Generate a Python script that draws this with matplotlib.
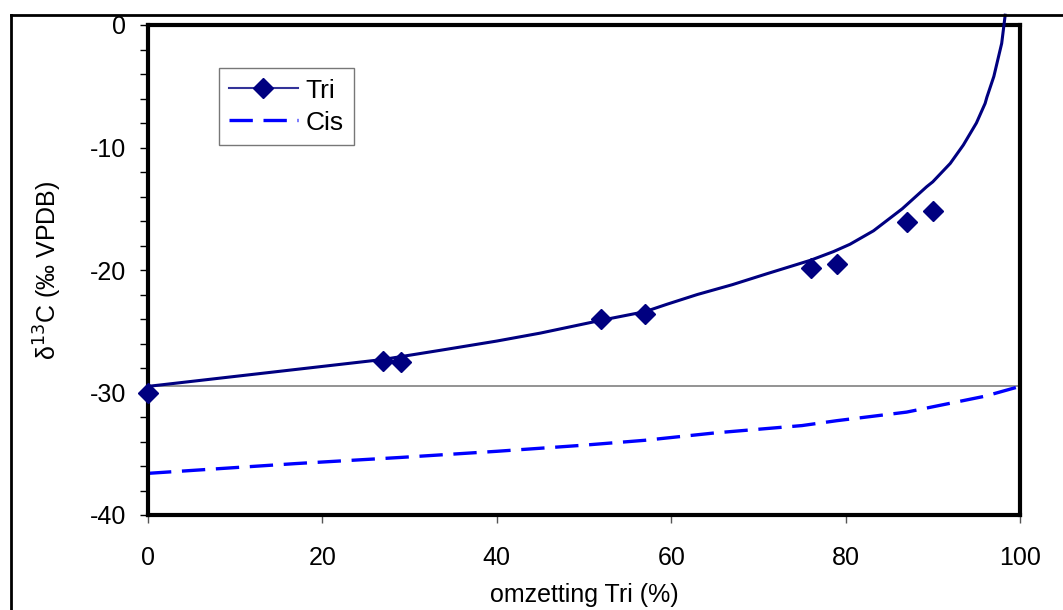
import matplotlib.pyplot as plt
from matplotlib.lines import Line2D

plt.rcParams['font.family'] = ['Liberation Sans', 'DejaVu Sans']
plt.rcParams['axes.unicode_minus'] = False

# measured Tri data (conversion %, d13C)
tri_x = [0, 27, 29, 52, 57, 76, 79, 87, 90]
tri_y = [-30.0, -27.4, -27.5, -24.0, -23.6, -19.8, -19.5, -16.1, -15.2]

# model curve for Tri
model_x = [0, 27, 34, 40, 45, 52, 57, 59.5, 63, 67, 71, 76, 78.6, 80.5, 83.2, 84.3,
           86.5, 89.3, 90, 92, 93.5, 94, 95, 96, 96.2, 97, 97.9, 98.3]
model_y = [-29.5, -27.3, -26.5, -25.8, -25.15, -24.1, -23.4, -22.8, -22.0, -21.2, -20.3,
           -19.2, -18.5, -17.9, -16.8, -16.2, -15.0, -13.2, -12.8, -11.3, -9.8, -9.2,
           -8.0, -6.4, -5.9, -4.2, -1.5, 0.8]

# model curve for Cis
cis_x = [0, 17, 29, 40, 50, 57, 65, 75, 79, 87, 96, 100]
cis_y = [-36.6, -35.8, -35.3, -34.8, -34.3, -33.9, -33.3, -32.7, -32.3, -31.6, -30.3, -29.5]

start_value = -29.5

fig = plt.figure(figsize=(10.63, 6.10), dpi=100)
ax = fig.add_axes([148 / 1063, 1 - 515 / 610, 872 / 1063, 490 / 610])

# outer chart frame (partly cropped)
fig.add_artist(Line2D([11 / 1063, 1], [1 - 15 / 610, 1 - 15 / 610], transform=fig.transFigure,
                      color='black', lw=2))
fig.add_artist(Line2D([11 / 1063, 11 / 1063], [0, 1 - 15 / 610], transform=fig.transFigure,
                      color='black', lw=2))

ax.axhline(start_value, color='#808080', lw=1.2, zorder=1)
ax.plot(model_x, model_y, color='#000080', lw=2.2, clip_on=False, zorder=3)
ax.plot(cis_x, cis_y, color='#0000FF', lw=2.4, dashes=(7, 3.2), zorder=2)
ax.plot(tri_x, tri_y, ls='none', marker='D', ms=10.5, color='#000080', clip_on=False, zorder=4)

ax.set_xlim(0, 100)
ax.set_ylim(-40, 0)
ax.set_xticks(range(0, 101, 20))
ax.set_yticks(range(-40, 1, 10))
ax.set_yticks(range(-40, 1, 2), minor=True)
ax.tick_params(axis='both', which='major', labelsize=18, direction='out', length=6, width=1)
ax.tick_params(axis='y', which='major', pad=10)
ax.tick_params(axis='x', which='major', pad=16, length=6, color='#555555')
ax.tick_params(axis='y', which='minor', direction='out', length=6, width=1)
for s in ax.spines.values():
    s.set_linewidth(3)
    s.set_color('black')

ax.set_xlabel('omzetting Tri (%)', fontsize=18, labelpad=10)
ax.set_ylabel('δ$^{13}$C (‰ VPDB)', fontsize=18, labelpad=18)

# legend: Tri shown as line + marker, Cis as dashed line
handles = [
    Line2D([], [], color='#333399', lw=1.5, marker='D', ms=10.5, mfc='#000080', mec='#000080'),
    Line2D([], [], color='#0000FF', lw=2.4, dashes=(7, 3.2)),
]
leg = ax.legend(handles, ['Tri', 'Cis'], loc='upper left', bbox_to_anchor=(0.081, 0.912),
                fontsize=19, frameon=True, fancybox=False, borderpad=0.4, handlelength=2.6,
                handletextpad=0.3, labelspacing=0.3, borderaxespad=0)
leg.get_frame().set_edgecolor('#555555')
leg.get_frame().set_linewidth(1)

fig.savefig('out.png', dpi=100)
